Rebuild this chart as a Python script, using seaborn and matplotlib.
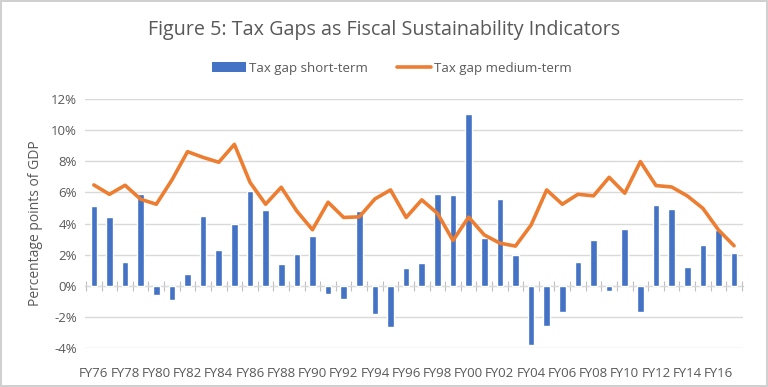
import numpy as np
import pandas as pd
import matplotlib
matplotlib.use('Agg')
import matplotlib.pyplot as plt
import seaborn as sns
from matplotlib.patches import Patch
from matplotlib.lines import Line2D
from matplotlib.ticker import FuncFormatter, MultipleLocator

# data (percentage points of GDP)
years = ['FY%02d' % y for y in range(76, 100)] + ['FY%02d' % y for y in range(0, 18)]
short_term = [5.15, 4.4, 1.5, 5.9, -0.6, -0.9, 0.73, 4.5, 2.3, 4.0,
              6.07, 4.86, 1.4, 2.07, 3.2, -0.55, -0.86, 4.8, -1.82, -2.67,
              1.13, 1.48, 5.9, 5.86, 11.04, 3.04, 5.6, 2.0, -3.79, -2.61,
              -1.71, 1.5, 2.95, -0.32, 3.64, -1.71, 5.2, 4.92, 1.18, 2.59,
              3.59, 2.1]
medium_term = [6.48, 5.88, 6.46, 5.56, 5.24, 6.8, 8.62, 8.25, 7.94, 9.09,
               6.65, 5.24, 6.33, 4.8, 3.6, 5.37, 4.39, 4.43, 5.58, 6.16,
               4.39, 5.52, 4.66, 2.91, 4.41, 3.27, 2.74, 2.55, 3.9, 6.16,
               5.24, 5.88, 5.78, 6.97, 5.95, 7.98, 6.44, 6.35, 5.78, 4.98,
               3.59, 2.57]

df = pd.DataFrame({'year': years, 'short': short_term, 'medium': medium_term})
df['pos'] = np.arange(len(df))

blue = '#4472C4'
orange = '#ED7D31'
txt = '#595959'
grid = '#d9d9d9'

sns.set_style('white')
plt.rcParams['font.family'] = ['Open Sans', 'DejaVu Sans']

fig = plt.figure(figsize=(7.68, 3.87), dpi=100)
fig.patch.set_edgecolor('#d0d0d0')
fig.patch.set_linewidth(1.5)
ax = fig.add_axes([0.111, 0.1008, 0.856, 0.6432])

sns.barplot(data=df, x='year', y='short', color=blue, width=0.42,
            saturation=1, ax=ax, zorder=2)
sns.lineplot(data=df, x='pos', y='medium', color=orange, linewidth=2.6,
             ax=ax, zorder=3)

ax.set_ylim(-4, 12)
ax.set_xlim(-0.55, len(df) - 0.45)
ax.yaxis.set_major_locator(MultipleLocator(2))
ax.yaxis.set_major_formatter(FuncFormatter(lambda v, p: '%d%%' % v))
ax.grid(axis='y', color=grid, linewidth=1, zorder=0)
ax.set_axisbelow(True)
for s in ax.spines.values():
    s.set_visible(False)

ax.set_xticks(df['pos'][::2])
ax.set_xticklabels(df['year'][::2])
ax.tick_params(axis='both', length=0, labelsize=9.5, colors=txt, pad=6)
ax.tick_params(axis='x', pad=14)
ax.set_xlabel('')
ax.set_ylabel('Percentage points of GDP', color=txt, fontsize=10, labelpad=6)

# category axis drawn at zero with small tick marks
sec = ax.secondary_xaxis(0.25)
sec.set_xticks(np.arange(len(df) + 1) - 0.5)
sec.tick_params(length=7, direction='inout', color='#bfbfbf', labelbottom=False)
sec.spines['bottom'].set_color('#bfbfbf')
sec.set_xticklabels([])

fig.text(0.5, 0.922, 'Figure 5: Tax Gaps as Fiscal Sustainability Indicators',
         ha='center', va='center', fontsize=14.2, color=txt)

handles = [Patch(facecolor=blue, edgecolor='none'),
           Line2D([0], [0], color=orange, linewidth=2.6)]
fig.legend(handles, ['Tax gap short-term', 'Tax gap medium-term'],
           loc='center', bbox_to_anchor=(0.51, 0.824), ncol=2, frameon=False,
           fontsize=9.5, labelcolor=txt, handlelength=2.6, handletextpad=0.2,
           columnspacing=2.2)

fig.savefig('out.png', dpi=100, edgecolor=fig.get_edgecolor())
